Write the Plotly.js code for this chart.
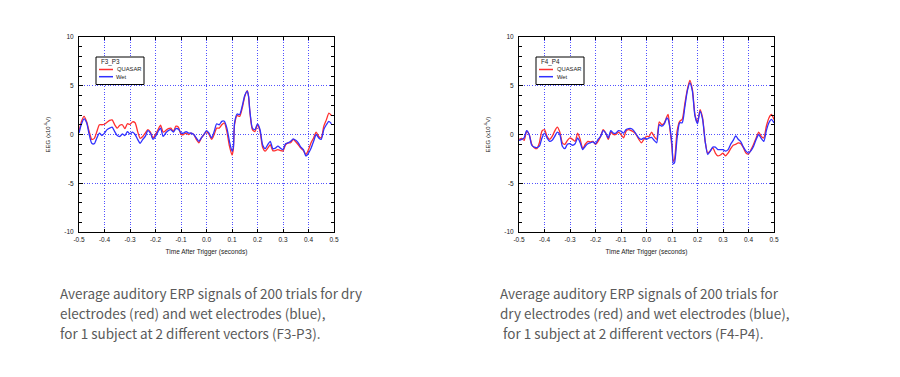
<!DOCTYPE html>
<html><head><meta charset="utf-8">
<script src="https://cdn.plot.ly/plotly-3.0.1.min.js"></script>
<style>html,body{margin:0;padding:0;background:#fff}#chart{width:900px;height:377px}</style>
</head><body><div id="chart"></div>
<script>
// time axis (seconds)
var timeSec = [-0.50,-0.49,-0.48,-0.47,-0.46,-0.45,-0.44,-0.43,-0.42,-0.41,-0.40,-0.39,-0.38,-0.37,-0.36,-0.35,-0.34,-0.33,-0.32,-0.31,-0.30,-0.29,-0.28,-0.27,-0.26,-0.25,-0.24,-0.23,-0.22,-0.21,-0.20,-0.19,-0.18,-0.17,-0.16,-0.15,-0.14,-0.13,-0.12,-0.11,-0.10,-0.09,-0.08,-0.07,-0.06,-0.05,-0.04,-0.03,-0.02,-0.01,0.00,0.01,0.02,0.03,0.04,0.05,0.06,0.07,0.08,0.09,0.10,0.105,0.11,0.12,0.13,0.14,0.15,0.16,0.165,0.17,0.18,0.19,0.20,0.21,0.22,0.23,0.24,0.25,0.26,0.27,0.28,0.29,0.30,0.31,0.32,0.33,0.34,0.35,0.36,0.37,0.38,0.39,0.40,0.41,0.42,0.43,0.44,0.45,0.46,0.47,0.48,0.49,0.50];
var timeSecR = [-0.50,-0.49,-0.48,-0.47,-0.46,-0.45,-0.44,-0.43,-0.42,-0.41,-0.40,-0.39,-0.38,-0.37,-0.36,-0.35,-0.34,-0.33,-0.32,-0.31,-0.30,-0.29,-0.28,-0.27,-0.26,-0.25,-0.24,-0.23,-0.22,-0.21,-0.20,-0.19,-0.18,-0.17,-0.16,-0.15,-0.14,-0.13,-0.12,-0.11,-0.10,-0.09,-0.08,-0.07,-0.06,-0.05,-0.04,-0.03,-0.02,-0.01,0.00,0.01,0.02,0.03,0.04,0.05,0.06,0.07,0.08,0.085,0.09,0.10,0.105,0.11,0.12,0.13,0.14,0.15,0.16,0.17,0.18,0.19,0.20,0.21,0.22,0.23,0.24,0.25,0.26,0.27,0.28,0.29,0.30,0.31,0.32,0.33,0.34,0.35,0.36,0.37,0.38,0.39,0.40,0.41,0.42,0.43,0.44,0.45,0.46,0.47,0.48,0.49,0.50];

// F3_P3
var f3Quasar = [0.3,1.35,1.85,1.3,0.3,-0.5,-0.4,0.3,1.0,1.0,1.05,1.25,1.45,1.5,1.0,0.65,0.95,1.0,0.6,1.1,1.05,1.3,1.2,0.3,-0.4,-0.2,0.15,0.5,0.25,-0.35,0,0.5,0.95,0.25,0.4,0.6,0.65,0.3,0.85,0.75,0,0,0.15,0,0.15,0,-0.5,-0.85,-0.35,0,0.3,0,-0.5,0,0.65,0.65,1.0,1.2,0.3,-1.2,-2.1,-1.55,1.0,1.95,1.85,2.7,3.9,4.5,3.9,2.35,0.5,0.3,1.0,0.3,-1.3,-1.7,-1.4,-1.05,-1.65,-1.65,-1.55,-1.65,-1.7,-1.05,-0.85,-0.85,-0.5,-0.75,-1.05,-1.4,-1.65,-2.05,-1.55,-0.85,-0.35,0.25,-0.2,-0.35,0.85,1.5,2.2,1.95];
var f3Wet = [0.15,1.1,1.6,1.2,0,-0.9,-0.95,-0.35,0.15,-0.1,0.15,0.5,0.65,0.75,0.3,-0.1,-0.2,0.05,-0.1,0.3,0.05,0.25,0,-0.5,-0.9,-0.5,-0.2,0.4,0.15,-0.5,-0.2,0.3,0.65,-0.2,0.15,0.4,0.5,0.25,0.6,0.55,0.15,0.15,0.3,0.15,0.15,0,-0.35,-0.7,-0.35,0,0.4,0.15,-0.35,0.3,1.1,1.0,1.35,1.35,0.65,-0.7,-1.7,-1.4,1.2,2.1,2.05,2.9,4.0,4.45,3.9,2.45,0.65,0.5,1.1,0.5,-1.05,-1.45,-1.05,-0.7,-1.45,-1.4,-1.2,-1.4,-1.55,-0.95,-0.85,-0.7,-0.45,-0.6,-0.85,-1.3,-1.55,-2.2,-1.9,-1.4,-0.7,0,-0.35,-0.5,0.5,1.0,1.35,1.1];

// F4_P4
var f4Quasar = [-0.5,-0.4,-0.6,0.35,0,-1.0,-1.35,-1.45,-0.85,0.35,0.5,-0.2,-0.5,-0.2,0.35,0.75,0.25,-0.85,-1.0,-0.6,-0.35,-0.5,-0.7,0.15,-0.5,-1.45,-1.0,-0.7,-0.75,-0.7,-1.0,-0.7,-0.2,0.5,0.15,-0.5,0.25,0,0,0.25,0,-0.35,0.35,0.5,0.4,0.25,-0.05,-0.5,-0.85,-0.5,-0.2,-0.2,0.25,-0.2,-0.5,1.3,1.0,1.2,1.85,2.05,1.0,-1.35,-2.75,-2.55,0.35,1.35,1.55,3.1,4.6,5.55,4.6,2.05,1.2,2.55,1.7,-0.7,-1.9,-1.7,-1.35,-1.9,-2.2,-2.1,-1.9,-2.2,-1.9,-1.45,-1.1,-1.0,-0.85,-0.95,-1.35,-1.9,-2.0,-1.55,-1.0,-0.35,0.25,-0.2,-0.35,0.85,1.7,2.05,1.55];
var f4Wet = [-0.6,-0.5,-0.35,0.4,0,-1.1,-1.3,-1.35,-1.2,-0.35,0.15,-0.35,-0.7,-0.6,-0.2,0.25,0,-1.2,-1.45,-1.0,-0.95,-1.1,-0.95,-0.35,-0.85,-1.55,-1.2,-0.95,-0.85,-0.75,-0.95,-0.5,-0.2,0.4,0.15,-0.35,0.4,0.15,0.15,0.4,0.35,0.15,0.5,0.6,0.6,0.4,0,-0.35,-0.5,-0.35,-0.5,-0.35,-0.3,-0.6,-0.85,1.0,0.85,1.1,1.7,1.55,1.0,-1.0,-3.0,-2.9,-0.35,1.2,1.2,2.75,4.45,5.3,4.45,1.9,1.1,2.4,1.55,-0.7,-2.05,-1.7,-1.3,-1.3,-1.55,-1.55,-1.55,-1.7,-1.55,-1.0,-0.6,-0.15,-0.5,-0.75,-1.3,-1.7,-1.9,-1.65,-1.2,-0.5,0,-0.4,-0.7,0.4,1.2,1.55,1.2];

var seriesNames = ["QUASAR", "Wet"];
var legendTitles = ["F3_P3", "F4_P4"];
var xTickVals = [-0.5,-0.4,-0.3,-0.2,-0.1,0,0.1,0.2,0.3,0.4,0.5];
var xTickText = ["-0.5","-0.4","-0.3","-0.2","-0.1","0.0","0.1","0.2","0.3","0.4","0.5"];
var yTickVals = [-10,-5,0,5,10];
var yTickText = ["-10","-5","0","5","10"];
var captionLeft = ["Average auditory ERP signals of 200 trials for dry", "electrodes (red) and wet electrodes (blue),", "for 1 subject at 2 different vectors (F3-P3)."];
var captionRight = ["Average auditory ERP signals of 200 trials for", "dry electrodes (red) and wet electrodes (blue),", " for 1 subject at 2 different vectors (F4-P4)."];

var RED = "#ff2f2f", BLUE = "#3030ff";
var W = 900, H = 377;
var FONT = "Arial, Liberation Sans, sans-serif";

function tr(x, y, name, color, xa, ya) {
  return {x: x, y: y, name: name, type: "scatter", mode: "lines", xaxis: xa, yaxis: ya, showlegend: false,
    line: {color: color, width: 1.3, shape: "spline", smoothing: 0.6}};
}
var data = [
  tr(timeSec, f3Quasar, seriesNames[0], RED, "x", "y"),
  tr(timeSec, f3Wet, seriesNames[1], BLUE, "x", "y"),
  tr(timeSecR, f4Quasar, seriesNames[0], RED, "x2", "y2"),
  tr(timeSecR, f4Wet, seriesNames[1], BLUE, "x2", "y2")
];

var tickFont = {family: FONT, size: 6.5, color: "#222"};
var GRID = "#5252ff";
function xax(l, r, anchor) {
  return {domain: [l / W, r / W], anchor: anchor, range: [-0.5, 0.5], tickmode: "array", tickvals: xTickVals, ticktext: xTickText,
    ticks: "inside", ticklen: 3, tickcolor: "#000", showline: true, linecolor: "#000", linewidth: 1, mirror: "ticks",
    showgrid: true, gridcolor: GRID, griddash: "1px,1.6px", gridwidth: 1, zeroline: false,
    tickfont: tickFont, ticklabelstandoff: 1,
    title: {text: "Time After Trigger (seconds)", font: {family: FONT, size: 6.5, color: "#222"}, standoff: 7}};
}
function yax(anchor) {
  return {domain: [1 - 232 / H, 1 - 37 / H], anchor: anchor, range: [-10, 10], tickmode: "array", tickvals: yTickVals, ticktext: yTickText,
    ticks: "inside", ticklen: 4, tickcolor: "#000", showline: true, linecolor: "#000", linewidth: 1, mirror: "ticks",
    minor: {dtick: 1, ticks: "inside", ticklen: 3, tickcolor: "#000", showgrid: false},
    showgrid: true, gridcolor: GRID, griddash: "1px,1.6px", gridwidth: 1, zeroline: false,
    tickfont: tickFont, ticklabelstandoff: 3,
    title: {text: "EEG (x10<sup>-6</sup>V)", font: {family: FONT, size: 6, color: "#222"}, standoff: 13}};
}

var annotations = [], shapes = [];
function px(x) { return x / W; }
function py(y) { return 1 - y / H; }
// hand-drawn legend box (the library's legend cannot be made this compact)
function legendBox(x0, title) {
  shapes.push({type: "rect", xref: "paper", yref: "paper", x0: px(x0), x1: px(x0 + 48), y0: py(57), y1: py(84.5),
    line: {color: "#000", width: 1}, fillcolor: "#fff", layer: "above"});
  annotations.push({xref: "paper", yref: "paper", x: px(x0 + 2.5), y: py(62.5), xanchor: "left", yanchor: "middle",
    text: title, showarrow: false, font: {family: FONT, size: 6.3, color: "#222"}});
  [RED, BLUE].forEach(function (c, i) {
    var yy = 69.5 + i * 7.2;
    shapes.push({type: "line", xref: "paper", yref: "paper", x0: px(x0 + 3), x1: px(x0 + 17), y0: py(yy), y1: py(yy),
      line: {color: c, width: 1.5}, layer: "above"});
    annotations.push({xref: "paper", yref: "paper", x: px(x0 + 18.5), y: py(yy), xanchor: "left", yanchor: "middle",
      text: seriesNames[i], showarrow: false, font: {family: FONT, size: 5.8, color: "#222"}});
  });
}
legendBox(96, legendTitles[0]);
legendBox(536, legendTitles[1]);

function cap(lines, x) {
  lines.forEach(function (t, i) {
    annotations.push({xref: "paper", yref: "paper", x: x / W, y: 1 - (293 + i * 20) / H, xanchor: "left", yanchor: "middle",
      text: t.replace(/ /g, "&nbsp;"), showarrow: false, align: "left",
      font: {family: "Noto Sans CJK KR, Noto Sans, sans-serif", size: 13.5, color: "#5a5a5a"}});
  });
}
cap(captionLeft, 58);
cap(captionRight, 498);

var layout = {
  width: W, height: H, margin: {l: 0, r: 0, t: 0, b: 0}, paper_bgcolor: "#fff", plot_bgcolor: "#fff",
  showlegend: false,
  xaxis: xax(79, 334, "y"), yaxis: yax("x"),
  xaxis2: xax(519, 774, "y2"), yaxis2: yax("x2"),
  annotations: annotations, shapes: shapes
};
Plotly.newPlot("chart", data, layout, {staticPlot: true, displayModeBar: false});
</script></body></html>
